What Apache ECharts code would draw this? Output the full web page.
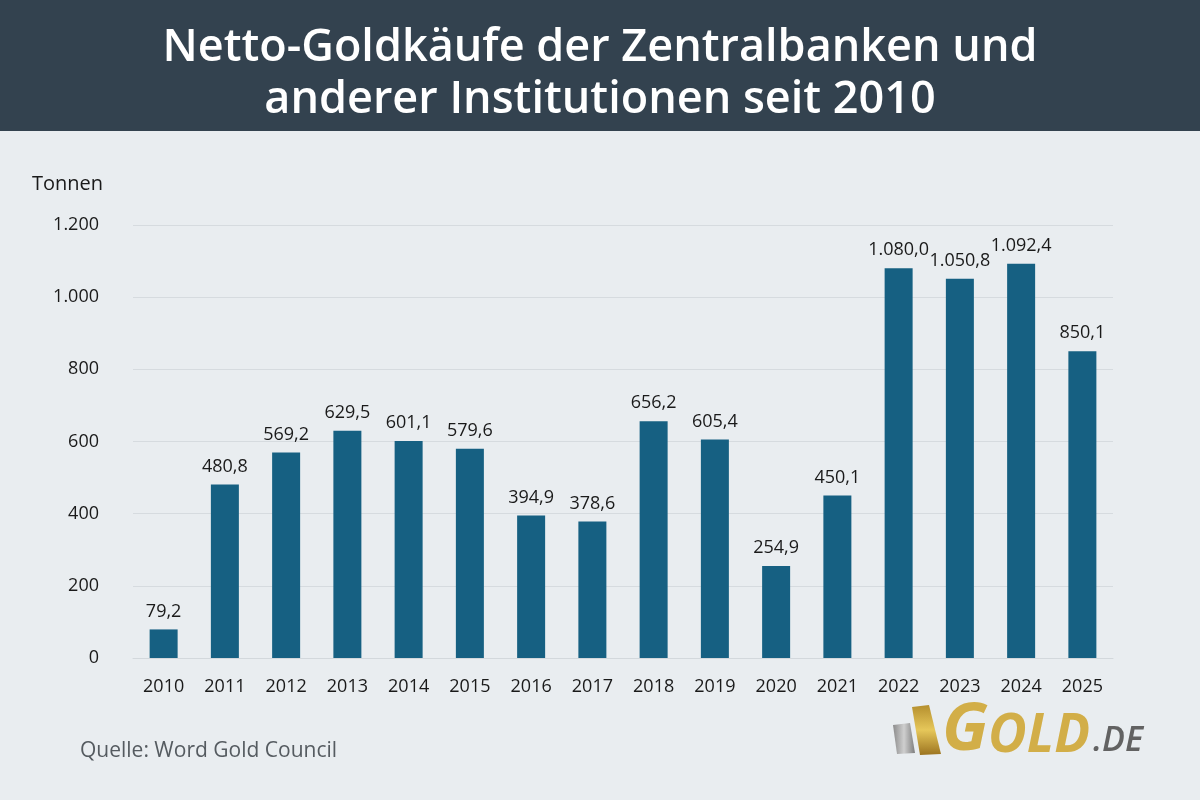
<!DOCTYPE html>
<html>
<head>
<meta charset="utf-8">
<script src="https://cdn.jsdelivr.net/npm/echarts@6/dist/echarts.min.js"></script>
<style>
  html, body { margin: 0; padding: 0; background: #e9edf0; }
  #chart { width: 1200px; height: 800px; }
</style>
</head>
<body>
<div id="chart"></div>
<script>
// Jahre und Netto-Käufe in Tonnen
const years = ["2010", "2011", "2012", "2013", "2014", "2015", "2016", "2017",
  "2018", "2019", "2020", "2021", "2022", "2023", "2024", "2025"];
const tonnes = [79.2, 480.8, 569.2, 629.5, 601.1, 579.6, 394.9, 378.6,
  656.2, 605.4, 254.9, 450.1, 1080.0, 1050.8, 1092.4, 850.1];
const titleLines = ["Netto-Goldkäufe der Zentralbanken und", "anderer Institutionen seit 2010"];

const fmt = (v, dec) => v.toLocaleString("de-DE", { minimumFractionDigits: dec, maximumFractionDigits: dec });

const chart = echarts.init(document.getElementById("chart"));
const font = "'Open Sans', 'Noto Sans', sans-serif";
const gold = "#d2ae48";

const option = {
  backgroundColor: "#e9edf0",
  textStyle: { fontFamily: font },
  animation: false,
  grid: { left: 133, right: 87, top: 225, bottom: 142 },
  xAxis: {
    type: "category",
    data: years,
    axisTick: { show: false },
    axisLine: { show: true, lineStyle: { color: "#d3d8dc", width: 1 } },
    axisLabel: { color: "#1a1a1a", fontSize: 18, margin: 20, fontFamily: font },
  },
  yAxis: {
    type: "value",
    min: 0,
    max: 1200,
    interval: 200,
    axisLine: { show: false },
    axisTick: { show: false },
    splitLine: { lineStyle: { color: "#d6dbdf", width: 1 } },
    axisLabel: {
      color: "#1a1a1a",
      fontSize: 18,
      margin: 34,
      fontFamily: font,
      formatter: (v) => fmt(v, 0),
    },
  },
  series: [{
    type: "bar",
    data: tonnes,
    barWidth: 28,
    itemStyle: { color: "#166082" },
    label: {
      show: true,
      position: "top",
      distance: 9,
      color: "#1a1a1a",
      fontSize: 18,
      fontFamily: font,
      formatter: (p) => fmt(p.value, 1),
    },
  }],
  graphic: [
    { type: "rect", left: 0, top: 0, shape: { width: 1200, height: 131 }, style: { fill: "#33424f" }, z: -1 },
    { type: "text", left: "center", top: 26, style: { text: titleLines[0], fill: "#ffffff", font: "600 45px " + font } },
    { type: "text", left: "center", top: 78, style: { text: titleLines[1], fill: "#ffffff", font: "600 45px " + font } },
    { type: "text", left: 32, top: 174, style: { text: "Tonnen", fill: "#1a1a1a", font: "20px " + font } },
    { type: "text", left: 80, top: 741, style: { text: "Quelle: Word Gold Council", fill: "#555b60", font: "21px " + font } },
    // Logo
    {
      type: "polygon",
      shape: { points: [[893, 725], [910, 723], [915, 753], [897, 754]] },
      style: {
        fill: new echarts.graphic.LinearGradient(0, 0, 1, 0, [
          { offset: 0, color: "#8c8c8c" }, { offset: 0.5, color: "#cfcfcf" }, { offset: 1, color: "#7d7d7d" }]),
      },
    },
    {
      type: "polygon",
      shape: { points: [[912, 707], [929, 705], [941, 754], [920, 755]] },
      style: {
        fill: new echarts.graphic.LinearGradient(0, 0, 0, 1, [
          { offset: 0, color: "#b58f2e" }, { offset: 0.5, color: "#e6c75a" }, { offset: 1, color: "#9c7420" }]),
      },
    },
    { type: "text", left: 942, top: 697, style: { text: "G", fill: gold, font: "italic bold 67px " + font } },
    { type: "text", left: 988, top: 710, style: { text: "OLD", fill: gold, font: "italic bold 53px " + font } },
    { type: "text", left: 1093, top: 724, style: { text: ".DE", fill: "#626262", font: "italic 600 34px " + font } },
  ],
};

chart.setOption(option);
</script>
</body>
</html>
